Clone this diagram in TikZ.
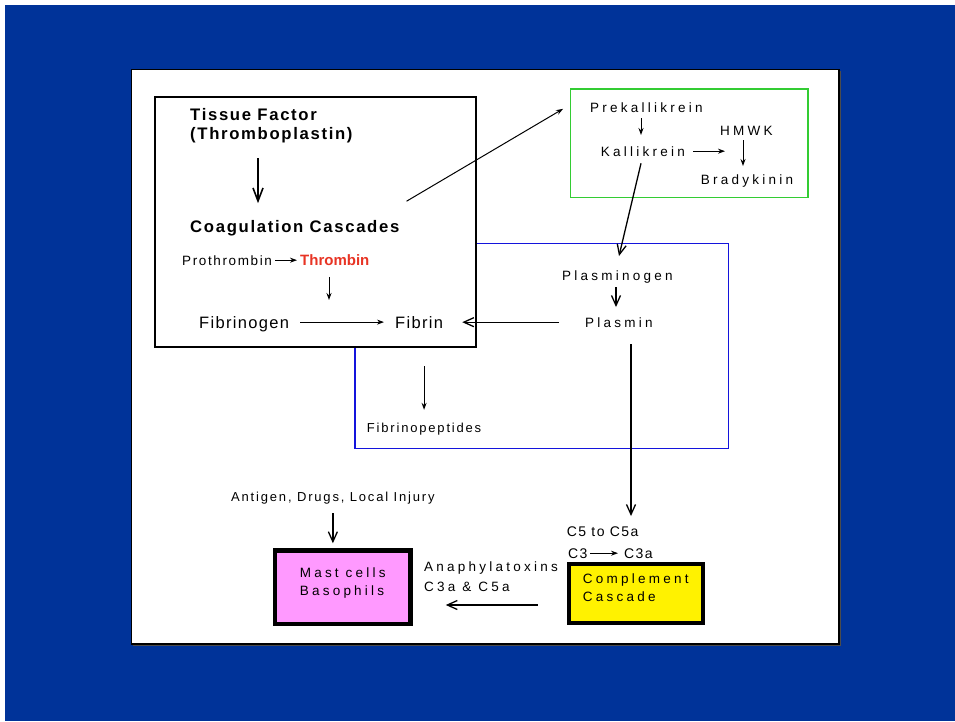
\documentclass[tikz,border=0pt]{standalone}
\usepackage{fontspec}
\setmainfont{Liberation Sans}
\usetikzlibrary{arrows.meta}

\definecolor{slideblue}{RGB}{0,51,153}
\definecolor{plasblue}{RGB}{20,20,220}
\definecolor{kkgreen}{RGB}{51,204,51}
\definecolor{thrred}{RGB}{232,52,36}
\definecolor{mastpink}{RGB}{255,153,255}

\begin{document}
\begin{tikzpicture}[x=1pt, y=-1pt,
  txt/.style={inner sep=0pt, anchor=base west},
  head/.style={txt, font=\fontsize{16.7}{19}\selectfont\bfseries\addfontfeature{LetterSpace=10}},
  fibtxt/.style={txt, font=\fontsize{16.5}{20}\selectfont\addfontfeature{LetterSpace=8}},
  small/.style={txt, font=\fontsize{13.5}{20}\selectfont\addfontfeature{LetterSpace=12}},
  wide/.style={txt, font=\fontsize{13.5}{20}\selectfont\addfontfeature{LetterSpace=24}},
  note/.style={txt, font=\fontsize{13}{18}\selectfont\addfontfeature{LetterSpace=14}},
  ctxt/.style={txt, font=\fontsize{14}{20}\selectfont\addfontfeature{LetterSpace=10}},
  frame/.style={draw, inner sep=0pt},
  cellbox/.style={draw=black, line width=4.5pt, inner sep=0pt, align=left, text depth=10.5pt,
                  font=\fontsize{13.5}{18}\selectfont\addfontfeature{LetterSpace=24}},
  arr/.style={-{Stealth[length=7pt,width=5pt]}, line width=1pt},
  barb/.style={-{Straight Barb[length=10pt,width=9pt]}, line width=1.3pt}
]
% slide background and white panel
\fill[white] (0,0) rectangle (955,721);
\fill[slideblue] (5,5) rectangle (955,721);
\fill[black!70] (133,71) rectangle (841,646);
\draw[line width=1.3pt, fill=white] (131.5,69.5) rectangle (839,644);

% frames
\node[frame, draw=plasblue, line width=1.2pt, minimum width=373.3pt, minimum height=205pt] (fibrinolysis) at (541.65,345.8) {};
\node[frame, fill=white, line width=1.5pt, minimum width=321pt, minimum height=250pt] (coagbox) at (315.5,222) {};
\node[frame, draw=kkgreen, line width=1.3pt, minimum width=237.3pt, minimum height=108.3pt] (kkbox) at (689.35,143.15) {};

% coagulation
\node[head, anchor=north west, align=left] (tf) at (190,108) {Tissue Factor\\(Thromboplastin)};
\node[head] (coag) at (190,232.5) {Coagulation Cascades};
\node[small] (pro) at (182,265) {Prothrombin};
\node[txt, font=\fontsize{15}{18}\selectfont\bfseries, text=thrred] (thr) at (300,265) {Thrombin};
\node[fibtxt] (fbg) at (199,328) {Fibrinogen};
\node[fibtxt] (fib) at (395,328) {Fibrin};
\node[note] (fpep) at (366.7,432) {Fibrinopeptides};
\coordinate (cut) at (329,300);

% kinin system
\node[wide] (prek) at (590,112) {Prekallikrein};
\node[wide] (kal) at (600.7,156) {Kallikrein};
\node[wide] (hmwk) at (720,135) {HMWK};
\node[wide] (brady) at (700.7,184) {Bradykinin};

% fibrinolysis
\node[wide] (plg) at (562,280) {Plasminogen};
\node[wide] (pla) at (585,327) {Plasmin};

% complement and mast cells
\node[ctxt] (c5) at (566.7,536) {C5 to C5a};
\node[ctxt] (c3) at (568,558) {C3};
\node[ctxt] (c3a) at (624,558) {C3a};
\node[cellbox, fill=yellow, minimum width=134pt, minimum height=59pt] (comp) at (635.8,593.3) {Complement\\Cascade};
\node[wide, anchor=north west, align=left] (anaph) at (424,562) {Anaphylatoxins\\C3a \& C5a};
\node[cellbox, fill=mastpink, minimum width=135.5pt, minimum height=73.5pt] (mast) at (342.75,587.25) {Mast cells\\Basophils};
\node[note] (ag) at (231,501.7) {Antigen, Drugs, Local Injury};

% connectors
\draw[-{Straight Barb[length=13pt,width=10pt]}, line width=1.6pt] ([xshift=68pt,yshift=-15.5pt]tf.south west) -- ([xshift=68pt,yshift=17pt]coag.north west);
\draw[arr, shorten <=3pt, shorten >=3pt] (pro.east) -- (pro.east -| thr.west);
\draw[arr, shorten <=11.5pt] (thr.south -| cut) -- (cut);
\draw[arr, shorten <=11pt, shorten >=11pt] (fbg.east |- fib.west) -- (fib.west);
\draw[barb, shorten <=26pt, shorten >=19pt] (pla.west) -- (pla.west -| fib.east);
\draw[arr, shorten <=38pt, shorten >=12.6pt] (fpep.north |- fib.south) -- (fpep.north);
\draw[arr] ([xshift=7pt,yshift=19pt]coag.north east) -- ([xshift=-7pt,yshift=-20.5pt]kkbox.north west);
\draw[arr] ([xshift=51pt,yshift=-6pt]prek.south west) -- ([xshift=40.3pt,yshift=11pt]kal.north west);
\draw[arr, shorten <=8pt, shorten >=-5pt] (kal.east) -- (kal.east -| hmwk.west);
\draw[arr] ([xshift=23pt,yshift=-5pt]hmwk.south west) -- ([xshift=42.3pt,yshift=8pt]brady.north west);
\draw[barb] ([xshift=40.3pt,yshift=-7pt]kal.south west) -- ([xshift=57pt,yshift=14pt]plg.north west);
\draw[barb] ([xshift=54pt,yshift=-4pt]plg.south west) -- ([xshift=31pt,yshift=10pt]pla.north west);
\draw[barb] ([xshift=46pt,yshift=-17pt]pla.south west) -- ([xshift=64.3pt,yshift=10pt]c5.north west);
\draw[arr, shorten <=2.5pt, shorten >=6pt] (c3.east) -- (c3a.west);
\draw[barb] ([xshift=-28.7pt,yshift=-11.7pt]comp.west) -- ([xshift=33pt,yshift=-17.75pt]mast.east);
\draw[barb, shorten <=8.6pt, shorten >=5pt] (ag.south) -- (ag.south |- mast.north);
\end{tikzpicture}
\end{document}
